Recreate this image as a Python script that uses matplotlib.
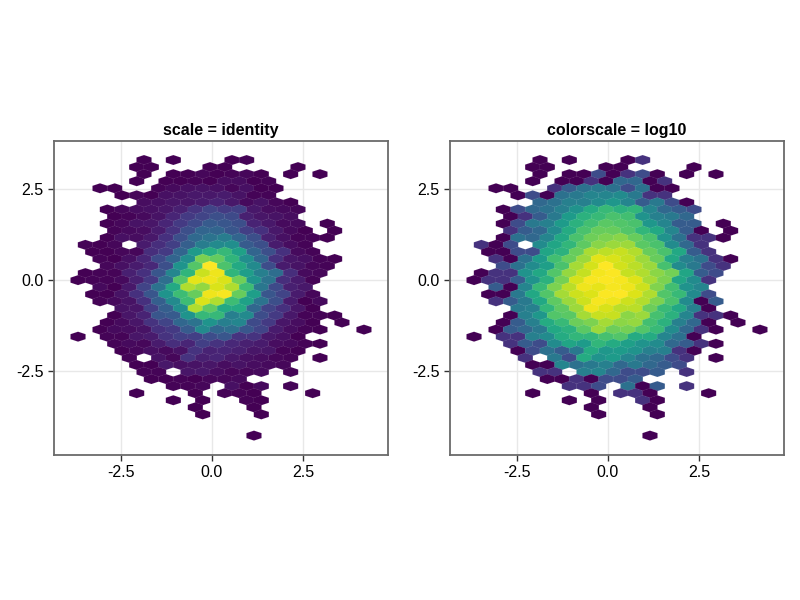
import numpy as np
import matplotlib
matplotlib.use("Agg")
import matplotlib.pyplot as plt
from matplotlib.collections import PolyCollection
from matplotlib.colors import Normalize, LogNorm

plt.rcParams['font.family'] = ['Liberation Sans', 'DejaVu Sans']

# hexbin grid: bin spacing in data units, first bin at top left
x_first, x_step = -3.68, 0.2014
y_first, y_step = 3.297, 0.1942

# bin counts read per row of the grid (row number, columns, counts)
row_numbers = [0, 1, 2, 3, 4, 5, 6, 7, 8, 9,
               10, 11, 12, 13, 14, 15, 16, 17, 18, 19,
               20, 21, 22, 23, 24, 25, 26, 27, 28, 29,
               30, 31, 32, 33, 34, 35, 36, 39]
row_cols = [
    [9, 13, 21, 23],
    [8, 10, 18, 20, 30],
    [9, 13, 15, 17, 19, 21, 23, 25, 29, 33],
    [8, 12, 14, 16, 18, 20, 22, 24, 26],
    [3, 5, 11, 13, 15, 17, 19, 21, 23, 25, 27],
    [6, 8, 10, 12, 14, 16, 18, 20, 22, 24, 26],
    [9, 11, 13, 15, 17, 19, 21, 23, 25, 27, 29],
    [4, 6, 8, 10, 12, 14, 16, 18, 20, 22, 24, 26, 28, 30],
    [5, 7, 9, 11, 13, 15, 17, 19, 21, 23, 25, 27, 29],
    [4, 6, 8, 10, 12, 14, 16, 18, 20, 22, 24, 26, 28, 30, 34],
    [5, 7, 9, 11, 13, 15, 17, 19, 21, 23, 25, 27, 29, 31, 35],
    [4, 6, 8, 10, 12, 14, 16, 18, 20, 22, 24, 26, 28, 30, 32, 34],
    [1, 3, 5, 9, 11, 13, 15, 17, 19, 21, 23, 25, 27, 29, 31],
    [2, 4, 6, 8, 10, 12, 14, 16, 18, 20, 22, 24, 26, 28, 30, 32],
    [3, 5, 7, 9, 11, 13, 15, 17, 19, 21, 23, 25, 27, 29, 31, 33, 35],
    [4, 6, 8, 10, 12, 14, 16, 18, 20, 22, 24, 26, 28, 30, 32, 34],
    [1, 3, 5, 7, 9, 11, 13, 15, 17, 19, 21, 23, 25, 27, 29, 31, 33],
    [0, 2, 4, 6, 8, 10, 12, 14, 16, 18, 20, 22, 24, 26, 28, 30, 32],
    [3, 5, 7, 9, 11, 13, 15, 17, 19, 21, 23, 25, 27, 29, 31],
    [2, 4, 6, 8, 10, 12, 14, 16, 18, 20, 22, 24, 26, 28, 30, 32],
    [3, 5, 7, 9, 11, 13, 15, 17, 19, 21, 23, 25, 27, 29, 31, 33],
    [6, 8, 10, 12, 14, 16, 18, 20, 22, 24, 26, 28, 30, 32],
    [5, 7, 9, 11, 13, 15, 17, 19, 21, 23, 25, 27, 29, 31, 33, 35],
    [4, 6, 8, 10, 12, 14, 16, 18, 20, 22, 24, 26, 28, 30, 32, 36],
    [3, 5, 7, 9, 11, 13, 15, 17, 19, 21, 23, 25, 27, 29, 31, 33, 39],
    [0, 4, 6, 8, 10, 12, 14, 16, 18, 20, 22, 24, 26, 28, 30],
    [5, 7, 9, 11, 13, 15, 17, 19, 21, 23, 25, 27, 29, 31, 33],
    [6, 8, 10, 12, 14, 16, 18, 20, 22, 24, 26, 28, 30],
    [7, 11, 13, 15, 17, 19, 21, 23, 25, 27, 29, 33],
    [8, 10, 12, 14, 16, 18, 20, 22, 24, 26, 28],
    [9, 11, 15, 17, 19, 21, 23, 25, 29],
    [10, 12, 14, 16, 18, 20, 22],
    [13, 15, 17, 21, 23, 25, 29],
    [8, 16, 20, 22, 24, 32],
    [13, 17, 23, 25],
    [16, 24],
    [17, 25],
    [24],
]
row_counts = [
    [1, 1, 1, 2],
    [1, 1, 1, 1, 1],
    [1, 1, 1, 3, 1, 2, 3, 1, 1, 1],
    [1, 1, 1, 2, 1, 5, 5, 1, 2],
    [1, 1, 2, 4, 6, 7, 6, 3, 6, 1, 1],
    [1, 3, 1, 6, 7, 9, 9, 10, 7, 2, 2],
    [5, 6, 8, 8, 10, 13, 9, 4, 7, 3, 1],
    [1, 3, 5, 6, 8, 12, 19, 26, 22, 24, 9, 5, 4, 3],
    [1, 2, 4, 7, 14, 22, 26, 31, 29, 12, 8, 7, 5],
    [1, 3, 7, 8, 14, 22, 29, 36, 34, 31, 13, 9, 4, 4, 1],
    [2, 4, 5, 10, 19, 31, 41, 41, 34, 24, 18, 9, 4, 1, 1],
    [1, 6, 5, 9, 18, 31, 43, 48, 53, 41, 31, 12, 6, 2, 2, 1],
    [2, 1, 3, 10, 17, 24, 38, 53, 60, 62, 36, 31, 10, 5, 2],
    [1, 1, 3, 3, 17, 22, 41, 68, 78, 84, 72, 41, 31, 18, 4, 2],
    [2, 1, 6, 14, 29, 41, 62, 100, 95, 82, 62, 41, 18, 8, 6, 2, 1],
    [3, 6, 10, 15, 31, 65, 92, 125, 90, 76, 60, 30, 10, 7, 3, 2],
    [1, 2, 2, 12, 18, 34, 58, 82, 115, 122, 82, 70, 54, 45, 17, 4, 3],
    [1, 2, 2, 4, 12, 22, 46, 92, 120, 122, 118, 98, 65, 48, 17, 10, 2],
    [4, 1, 9, 26, 48, 76, 110, 105, 118, 110, 86, 50, 29, 12, 9],
    [1, 1, 7, 18, 34, 65, 86, 96, 122, 124, 96, 70, 34, 26, 10, 3],
    [2, 4, 7, 18, 38, 60, 86, 118, 110, 86, 72, 48, 31, 10, 1, 4],
    [7, 8, 24, 38, 62, 110, 94, 76, 76, 42, 26, 18, 8, 1],
    [1, 8, 13, 34, 36, 65, 84, 84, 54, 60, 30, 22, 9, 2, 2, 1],
    [1, 4, 8, 19, 26, 42, 48, 65, 54, 58, 29, 22, 8, 5, 1, 1],
    [1, 4, 5, 7, 18, 22, 36, 60, 42, 46, 34, 26, 10, 5, 2, 1, 1],
    [1, 2, 2, 8, 10, 19, 24, 24, 30, 34, 19, 19, 9, 6, 1],
    [2, 4, 3, 10, 17, 14, 24, 19, 15, 12, 10, 5, 4, 2, 1],
    [1, 3, 6, 4, 7, 19, 13, 14, 12, 8, 8, 2, 1],
    [2, 7, 3, 19, 12, 14, 9, 6, 5, 3, 2, 1],
    [1, 1, 9, 6, 7, 8, 5, 7, 5, 4, 3],
    [2, 2, 8, 9, 5, 3, 3, 4, 2],
    [1, 1, 2, 1, 3, 3, 4],
    [2, 2, 3, 6, 1, 4, 2],
    [1, 1, 2, 2, 1, 1],
    [1, 1, 2, 1],
    [1, 1],
    [1, 1],
    [1],
]

panel_titles = ['scale = identity', 'colorscale = log10']
tick_values = [-2.5, 0.0, 2.5]
tick_labels = ['-2.5', '0.0', '2.5']

# hexagon shape: width is two column steps, drawn a touch oversize so no gaps show
half_w = x_step * 1.03
half_h = y_step / 1.5 * 1.06
hex_shape = np.array([[0, half_h], [half_w, half_h / 2], [half_w, -half_h / 2],
                      [0, -half_h], [-half_w, -half_h / 2], [-half_w, half_h / 2]])

verts = []
values = []
for r, cols, counts in zip(row_numbers, row_cols, row_counts):
    for c, n in zip(cols, counts):
        verts.append(hex_shape + [x_first + c * x_step, y_first - r * y_step])
        values.append(n)
values = np.array(values)

fig = plt.figure(figsize=(8, 6), dpi=100)
lefts = [54, 450]
norms = [Normalize(1, values.max()), LogNorm(1, values.max())]

for left, title, norm in zip(lefts, panel_titles, norms):
    ax = fig.add_axes([left / 800, 145 / 600, 334 / 800, 314 / 600])
    hexes = PolyCollection(verts, array=values, cmap='viridis', norm=norm,
                           edgecolors=(1, 1, 1, 0.13), linewidths=0.35, zorder=2)
    ax.add_collection(hexes)
    ax.set_xlim(-4.34, 4.835)
    ax.set_ylim(-4.81, 3.82)
    ax.set_xticks(tick_values, tick_labels)
    ax.set_yticks(tick_values, tick_labels)
    ax.grid(True, color='#e8e8e8', linewidth=1)
    ax.set_axisbelow(True)
    ax.tick_params(labelsize=11.5, length=4.5, width=1, color='#333333', pad=3)
    for spine in ax.spines.values():
        spine.set_color('#6a6a6a')
        spine.set_linewidth(1.3)
        spine.set_zorder(3)
    ax.set_title(title, fontsize=11.5, fontweight='bold', pad=4)

fig.savefig('out.png', dpi=100)
